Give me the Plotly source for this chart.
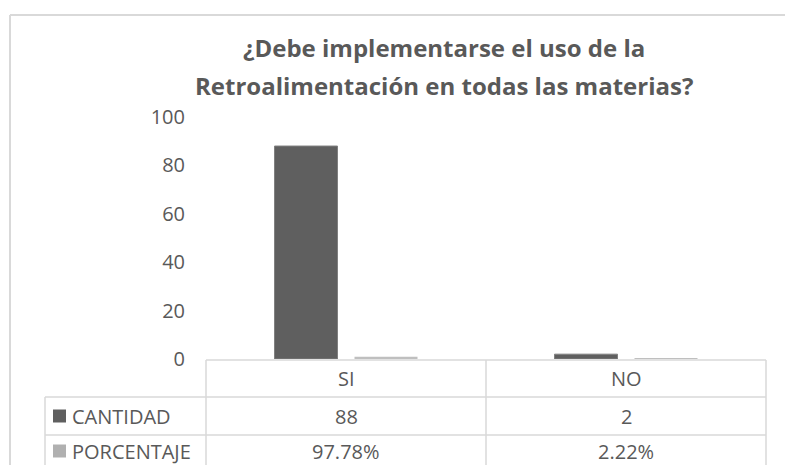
import plotly.graph_objects as go

categorias = ["SI", "NO"]
cantidad = [88, 2]
porcentaje = [0.9778, 0.0222]
series = ["CANTIDAD", "PORCENTAJE"]
colores = ["#5f5f5f", "#bfbfbf"]
titulo = ["¿Debe implementarse el uso de la", "Retroalimentación en todas las materias?"]
y_ticks = [0, 20, 40, 60, 80, 100]

W, H = 793, 465
# la pagina deja 8px de margen en el body, se compensa aqui
OFF = 8
X0, X1 = 206, 766   # area de trazado en la ventana
Y0, Y1 = 359, 117
L, R, T, B = X0 - OFF, W - (X1 - OFF), Y1 - OFF, H - (Y0 - OFF)
txt = "#595959"
borde = "#d9d9d9"


def px(x):
    return (x - X0) / (X1 - X0)


def py(y):
    return (Y0 - y) / (Y0 - Y1)


fig = go.Figure()
valores = [cantidad, porcentaje]
for j, (nombre, vals, col) in enumerate(zip(series, valores, colores)):
    fig.add_trace(go.Bar(
        x=categorias, y=vals, name=nombre,
        marker=dict(color=col, line=dict(color="#808080", width=1 if j == 0 else 0)),
    ))

shapes = []
# borde exterior del grafico
shapes.append(dict(type="line", xref="paper", yref="paper", x0=px(10), x1=px(W + 10), y0=py(15), y1=py(15),
                   line=dict(color=borde, width=2)))
shapes.append(dict(type="line", xref="paper", yref="paper", x0=px(10), x1=px(10), y0=py(15), y1=py(H + 10),
                   line=dict(color=borde, width=2)))
# tabla de datos
for x, ytop in [(45, 397), (206, 360), (486, 360), (766, 360)]:
    shapes.append(dict(type="line", xref="paper", yref="paper", x0=px(x), x1=px(x), y0=py(ytop), y1=py(H + 10),
                       line=dict(color=borde, width=1.5)))
for y, xl in [(360, 206), (397, 45), (435, 45)]:
    shapes.append(dict(type="line", xref="paper", yref="paper", x0=px(xl), x1=px(766), y0=py(y), y1=py(y),
                       line=dict(color=borde, width=1.5)))

annotations = []
for i, linea in enumerate(titulo):
    annotations.append(dict(text="<b>" + linea + "</b>", xref="paper", yref="paper", x=px(444),
                            y=py(48 + 37 * i), xanchor="center", yanchor="middle", showarrow=False,
                            font=dict(size=24, color=txt, family="Open Sans")))

filas_y = [378, 416, 451]
for c in categorias:
    annotations.append(dict(text=c, xref="x", yref="paper", x=c, y=py(filas_y[0]), showarrow=False,
                            yanchor="middle", font=dict(size=20, color=txt)))
for j, (nombre, vals, col) in enumerate(zip(series, valores, colores)):
    yc = filas_y[j + 1]
    shapes.append(dict(type="rect", xref="paper", yref="paper", x0=px(53), x1=px(66),
                       y0=py(yc - 6.5), y1=py(yc + 6.5), fillcolor=col if j == 0 else "#b0b0b0",
                       line=dict(width=0)))
    annotations.append(dict(text=nombre, xref="paper", yref="paper", x=px(70), y=py(yc), showarrow=False,
                            xanchor="left", yanchor="middle", font=dict(size=20, color=txt)))
    for c, v in zip(categorias, vals):
        etiqueta = f"{v:.2%}" if j == 1 else str(v)
        annotations.append(dict(text=etiqueta, xref="x", yref="paper", x=c, y=py(yc), showarrow=False,
                                yanchor="middle", font=dict(size=20, color=txt)))

fig.update_layout(
    width=W, height=H,
    margin=dict(l=L, r=R, t=T, b=B),
    paper_bgcolor="white", plot_bgcolor="white",
    font=dict(family="Open Sans", color=txt),
    barmode="group", bargap=0.4286, bargroupgap=0.2125,
    showlegend=False,
    shapes=shapes, annotations=annotations,
    xaxis=dict(showticklabels=False, showgrid=False, zeroline=False, showline=False, ticks="",
               range=[-0.5, 1.5]),
    yaxis=dict(range=[0, 100], tickvals=y_ticks, showgrid=False, zeroline=False, showline=False,
               ticks="", tickfont=dict(size=20, color=txt), ticklabelstandoff=20),
)

fig.write_html("out.html")
